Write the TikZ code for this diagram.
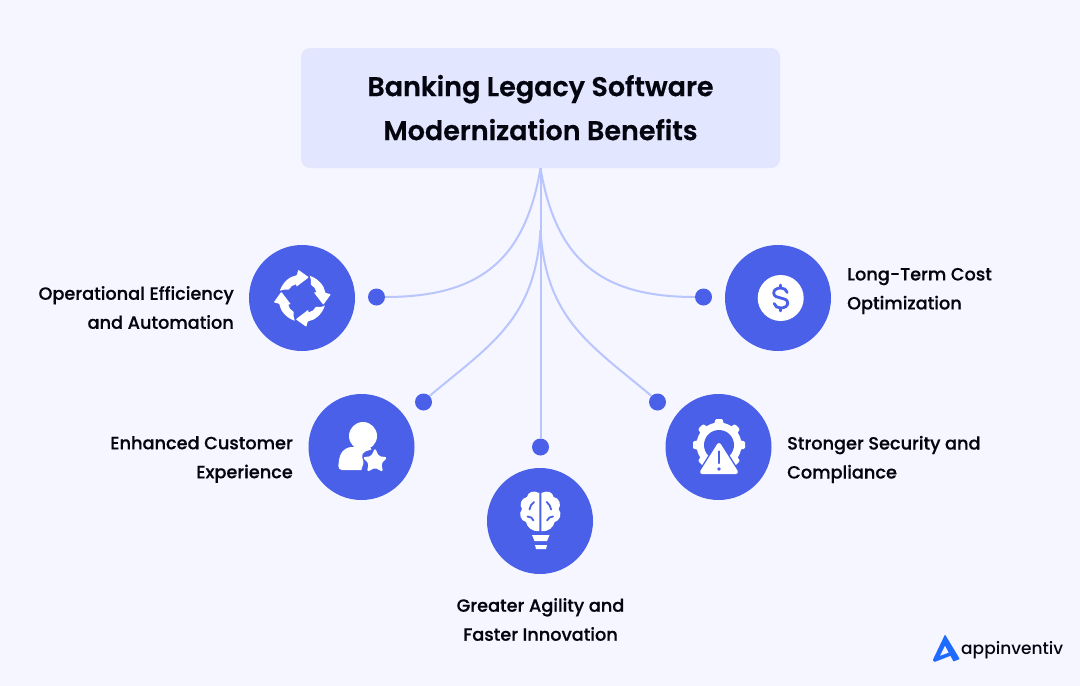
\documentclass[tikz,border=0pt]{standalone}
\usepackage{fontspec}
\setmainfont{Poppins}
\newfontfamily\titlefont[RawFeature={embolden=0.5}]{Poppins SemiBold}
\newfontfamily\labelfont[RawFeature={embolden=0.5}]{Poppins Medium}
\newfontfamily\brandfont{Poppins Medium}
\definecolor{bgc}{HTML}{F5F6FF}
\definecolor{boxc}{HTML}{E2E6FE}
\definecolor{linec}{HTML}{B9C5FD}
\definecolor{bluec}{HTML}{4A60E8}
\definecolor{inkc}{HTML}{050510}
\definecolor{logoc}{HTML}{1F6BFF}
\tikzset{
  titlebox/.style={fill=boxc,rounded corners=9pt,minimum width=479pt,minimum height=120pt,inner sep=0pt,align=center,text=inkc,font=\titlefont\fontsize{27}{44}\selectfont},
  disc/.style={circle,fill=bluec,minimum size=106pt,inner sep=0pt},
  dotn/.style={circle,fill=bluec,minimum size=17pt,inner sep=0pt},
  lab/.style={text=inkc,inner sep=0pt,font=\labelfont\fontsize{17.7}{29}\selectfont},
  branch/.style={draw=linec,line width=2pt},
}
\begin{document}
\begin{tikzpicture}[x=1pt,y=-1pt]
\useasboundingbox (0,0) rectangle (1080,686);
\fill[bgc] (0,0) rectangle (1080,686);
\node[titlebox] (title) at (540.5,108) {\raisebox{1pt}{Banking Legacy Software}\\\raisebox{1pt}{Modernization Benefits}};
\node[disc] (c1) at (302,298) {};
\node[disc] (c2) at (361.5,447) {};
\node[disc] (c3) at (540,521) {};
\node[disc] (c4) at (718.5,447) {};
\node[disc] (c5) at (778,298) {};
\node[dotn] (d1) at (376.5,297) {};
\node[dotn] (d2) at (423.5,402) {};
\node[dotn] (d3) at (540.5,447) {};
\node[dotn] (d4) at (657.5,402) {};
\node[dotn] (d5) at (703.5,297) {};
\coordinate (fork) at (540.5,230);
\draw[branch] (title.south) .. controls (525,260) and (480,297) .. (d1.east);
\draw[branch] (title.south) .. controls (556,260) and (601,297) .. (d5.west);
\draw[branch] (fork) .. controls (535,320) and (490,345) .. (d2.north east);
\draw[branch] (fork) .. controls (546,320) and (591,345) .. (d4.north west);
\draw[branch] (title.south) -- (d3.north);
% labels
\node[lab,align=right,anchor=east] (l1) at (234,307.5) {Operational Efficiency\\and Automation};
\node[lab,align=right,anchor=east] (l2) at (293,459.5) {Enhanced Customer\\Experience};
\node[lab,align=center] (l3) at (540.5,619.5) {Greater Agility and\\Faster Innovation};
\node[lab,align=left,anchor=west] (l4) at (787,459.5) {Stronger Security and\\Compliance};
\node[lab,align=left,anchor=west] (l5) at (847,291) {Long-Term Cost\\Optimization};
% cycle icon
\begin{scope}[shift={(302.3,298.3)}]
\foreach \a in {0,90,180,270}{
\fill[white,rotate=\a,rounded corners=0.6pt] (-22.5,-7.5) .. controls (-19,-17) and (-12,-22) .. (-5.5,-23) -- (-4,-28.5) -- (6.5,-21) -- (-6,-11.5) -- (-6,-14) .. controls (-9.5,-13.5) and (-12,-11.5) .. (-13.5,-8.5) .. controls (-17,-9) and (-20,-8.5) .. (-22.5,-7.5) -- cycle;
}
\end{scope}
% person icon
\fill[white] (363,436) circle (14);
\fill[white,rounded corners=4pt] (338,470) -- (339,459) .. controls (342,450) and (348,447) .. (355,447) -- (372,447) -- (372,470) -- cycle;
\fill[bluec,rounded corners=2pt] (361,471) -- (364,462) -- (361.5,456) -- (364,452) -- (373,449) -- (390,449) -- (390,475) -- (361,475) -- cycle;
\fill[white,rounded corners=1.8pt] (375,448) -- (378.8,456.2) -- (387.5,457.3) -- (381.4,463.4) -- (383,472) -- (375,467.8) -- (367,472) -- (368.6,463.4) -- (362.5,457.3) -- (371.2,456.2) -- cycle;
% brain bulb icon
\fill[white] (539.3,493) .. controls (533,490) and (528,492) .. (527,497) .. controls (521,498) and (519,505) .. (522,509) .. controls (518,514) and (521,521) .. (526,522) .. controls (527,527) and (532,532) .. (539.3,531) -- cycle;
\fill[white] (541.3,493) .. controls (547.6,490) and (552.6,492) .. (553.6,497) .. controls (559.6,498) and (561.6,505) .. (558.6,509) .. controls (562.6,514) and (559.6,521) .. (554.6,522) .. controls (553.6,527) and (548.6,532) .. (541.3,531) -- cycle;
\draw[bluec,line width=1.8pt,line cap=round] (534,502) .. controls (531.5,504) and (530,506) .. (529.5,509.5) (527.5,516.5) .. controls (530.5,516.5) and (532.5,518) .. (533.5,520.5);
\draw[bluec,line width=1.8pt,line cap=round] (546.6,502) .. controls (549.1,504) and (550.6,506) .. (551.1,509.5) (553.1,516.5) .. controls (550.1,516.5) and (548.1,518) .. (547.1,520.5);
\fill[white] (532,535) -- (549.5,535) -- (547,541) -- (534.5,541) -- cycle;
\fill[white] (535,545) -- (547,545) -- (546,549) -- (536,549) -- cycle;
% gear warning icon
\begin{scope}[shift={(719,445)}]
\foreach \a in {0,45,...,315}{
\fill[white,rotate=\a,rounded corners=1pt] (-5,-20) -- (-3.5,-26) -- (3.5,-26) -- (5,-20) -- cycle;
}
\fill[white] (0,0) circle (22.5);
\fill[bluec] (0,0) circle (15);
\draw[bluec,fill=bluec,line width=8pt,line join=round] (0,1) -- (-17,28) -- (17,28) -- cycle;
\fill[bluec] (-30,29) rectangle (30,36);
\draw[white,fill=white,line width=4pt,line join=round] (0,0) -- (-17,27) -- (17,27) -- cycle;
\draw[bluec,line width=2.4pt,line cap=round] (0,6.5) -- (0,18);
\fill[bluec] (0,24) circle (1.9);
\end{scope}
% dollar icon
\node[circle,fill=white,minimum size=46pt,inner sep=0pt] (dollar) at (780.7,298) {};
\begin{scope}[shift={(dollar.center)}]
\draw[bluec,line width=2.8pt,line cap=round] (6.5,-5.5) .. controls (6,-8.5) and (3,-10) .. (0,-10) .. controls (-4,-10) and (-7,-8) .. (-7,-5) .. controls (-7,-1.5) and (-3,-0.5) .. (0,0) .. controls (3,.5) and (7,1.5) .. (7,5) .. controls (7,8) and (4,10) .. (0,10) .. controls (-3,10) and (-6,8.5) .. (-6.5,5.5);
\draw[bluec,line width=2.8pt,line cap=round] (0,-13) -- (0,-10) (0,10) -- (0,13);
\end{scope}
% logo
\node[text=inkc,inner sep=0pt,anchor=base west,font=\brandfont\fontsize{17}{17}\selectfont] (brand) at (961,654) {appinventiv};
\fill[logoc,rounded corners=0.6pt] (945,634.5) -- (959.8,659) -- (953.5,661.5) -- (945,645.5) -- (939.8,656) -- (950.5,652) -- (952.5,655) -- (934.5,662) -- (932.8,660) -- cycle;
\end{tikzpicture}
\end{document}
